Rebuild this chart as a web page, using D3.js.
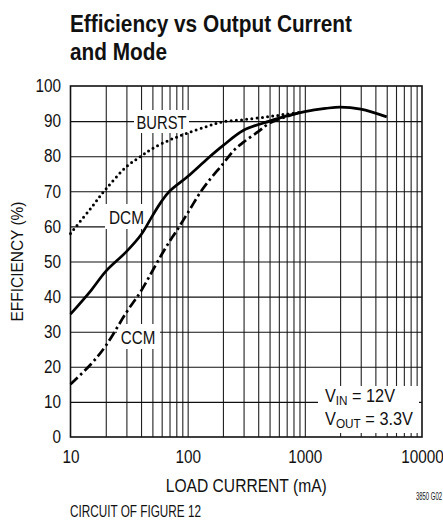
<!DOCTYPE html>
<html>
<head>
<meta charset="utf-8">
<script src="https://cdn.jsdelivr.net/npm/d3@7"></script>
<style>
  body { margin: 0; background: #fff; }
  svg text { font-family: "Liberation Sans", Arial, sans-serif; fill: #111; }
</style>
</head>
<body>
<svg id="chart" width="443" height="520"></svg>
<script>
// tick labels
var xTicks = [10, 100, 1000, 10000];
var yTicks = [0, 10, 20, 30, 40, 50, 60, 70, 80, 90, 100];

// BURST (dotted)
var burstI = [10, 15, 20, 30, 40, 50, 70, 100, 150, 200, 300, 500, 700, 900];
var burstE = [58, 65.3, 70.6, 77, 80, 82.2, 84.6, 86.6, 88.6, 89.8, 90.4, 91.3, 92, 92.5];

// DCM (solid)
var dcmI = [10, 15, 20, 30, 40, 50, 60, 70, 100, 150, 200, 300, 500, 700, 1000, 1500, 2000, 3000, 5000];
var dcmE = [35, 41.8, 47.2, 52.8, 57.6, 63, 67.2, 70, 74.2, 79.5, 83, 87.4, 90, 91.5, 92.7, 93.6, 94, 93.4, 91.2];

// CCM (dash-dot)
var ccmI = [10, 15, 20, 30, 40, 50, 60, 70, 80, 100, 130, 150, 200, 250, 300, 400, 500, 700, 900];
var ccmE = [15, 20.8, 26, 35.5, 41.6, 47.3, 52, 55.7, 58.6, 63.8, 70, 72.8, 77.8, 81.8, 84, 87, 89.4, 91.3, 92.4];

var svg = d3.select("#chart");
var mLeft = 70.5, mRight = 422, mTop = 86, mBottom = 437;

var x = d3.scaleLog().domain([10, 10000]).range([mLeft, mRight]);
var y = d3.scaleLinear().domain([0, 100]).range([mBottom, mTop]);

// squeeze text horizontally to mimic the condensed face
function squeeze(sel, w) {
    sel.each(function(){
        var len = this.getComputedTextLength();
        var target = typeof w === "number" ? w : len * 0.85;
        d3.select(this).attr("textLength", target).attr("lengthAdjust", "spacingAndGlyphs");
    });
}

// title
svg.append("text")
    .attr("x", 70).attr("y", 32)
    .style("font-size", "23px").style("font-weight", "bold")
    .text("Efficiency vs Output Current")
    .call(squeeze, 282);
svg.append("text")
    .attr("x", 70).attr("y", 60)
    .style("font-size", "23px").style("font-weight", "bold")
    .text("and Mode")
    .call(squeeze, 97);

// grid
var minor = [];
[10, 100, 1000].forEach(function(d){
    for (var k = 2; k <= 9; k++) minor.push(d * k);
});
minor = minor.concat([100, 1000]);

svg.append("g")
    .attr("class", "grid-x")
    .attr("transform", "translate(0," + mBottom + ")")
    .call(d3.axisBottom(x).tickValues(minor).tickSize(-(mBottom - mTop)).tickFormat(""))
    .call(function(g){
        g.select(".domain").remove();
        g.selectAll("line").attr("stroke", "#222").attr("stroke-width", 1.1);
    });

svg.append("g")
    .attr("class", "grid-y")
    .attr("transform", "translate(" + mLeft + ",0)")
    .call(d3.axisLeft(y).tickValues(yTicks.slice(1, -1)).tickSize(-(mRight - mLeft)).tickFormat(""))
    .call(function(g){
        g.select(".domain").remove();
        g.selectAll("line").attr("stroke", "#111").attr("stroke-width", 1.1);
    });

// white boxes behind curve labels
var boxes = [
    [134, 110, 55, 23],
    [105, 204, 42, 25],
    [117, 324, 43, 25],
    [318, 386, 101, 47]
];
svg.selectAll("rect.bg")
    .data(boxes)
    .enter()
    .append("rect")
    .attr("class", "bg")
    .attr("x", function(d){ return d[0]; })
    .attr("y", function(d){ return d[1]; })
    .attr("width", function(d){ return d[2]; })
    .attr("height", function(d){ return d[3]; })
    .attr("fill", "#fff");

// frame
svg.append("rect")
    .attr("x", mLeft).attr("y", mTop)
    .attr("width", mRight - mLeft).attr("height", mBottom - mTop)
    .attr("fill", "none").attr("stroke", "#111").attr("stroke-width", 1.6);

// axes labels
svg.append("g")
    .attr("transform", "translate(" + mLeft + ",0)")
    .call(d3.axisLeft(y).tickValues(yTicks).tickSize(0).tickPadding(9.5))
    .call(function(g){
        g.select(".domain").remove();
        g.selectAll("text").style("font-size", "18px").attr("fill", "#111")
            .style("font-family", "'Liberation Sans', Arial, sans-serif")
            .call(squeeze);
    });

svg.append("g")
    .attr("transform", "translate(0," + mBottom + ")")
    .call(d3.axisBottom(x).tickValues(xTicks).tickSize(0).tickPadding(13.7).tickFormat(d3.format("d")))
    .call(function(g){
        g.select(".domain").remove();
        g.selectAll("text").style("font-size", "18px").attr("fill", "#111")
            .style("font-family", "'Liberation Sans', Arial, sans-serif")
            .call(squeeze);
    });

svg.append("text")
    .attr("transform", "translate(23," + ((mTop + mBottom) / 2) + ") rotate(-90)")
    .attr("text-anchor", "middle")
    .style("font-size", "16px")
    .text("EFFICIENCY (%)")
    .call(squeeze, 120);

svg.append("text")
    .attr("x", (mLeft + mRight) / 2).attr("y", 491.5)
    .attr("text-anchor", "middle")
    .style("font-size", "17.5px")
    .text("LOAD CURRENT (mA)")
    .call(squeeze, 161);

svg.append("text")
    .attr("x", 70).attr("y", 517)
    .style("font-size", "17px")
    .text("CIRCUIT OF FIGURE 12")
    .call(squeeze, 131);

svg.append("text")
    .attr("x", 442).attr("y", 500)
    .attr("text-anchor", "end")
    .style("font-size", "10px")
    .text("3850 G02")
    .call(squeeze, 26);

// curves
var line = d3.line()
    .x(function(d){ return x(d[0]); })
    .y(function(d){ return y(d[1]); })
    .curve(d3.curveCatmullRom.alpha(0.5));

function pairs(a, b) { return a.map(function(v, i){ return [v, b[i]]; }); }

svg.append("path")
    .datum(pairs(burstI, burstE))
    .attr("d", line)
    .attr("fill", "none").attr("stroke", "#000")
    .attr("stroke-width", 3)
    .attr("stroke-linecap", "round")
    .attr("stroke-dasharray", "0,5.2");

svg.append("path")
    .datum(pairs(ccmI, ccmE))
    .attr("d", line)
    .attr("fill", "none").attr("stroke", "#000")
    .attr("stroke-width", 2.7)
    .attr("stroke-dasharray", "10,3.5,2.5,3.5");

svg.append("path")
    .datum(pairs(dcmI, dcmE))
    .attr("d", line)
    .attr("fill", "none").attr("stroke", "#000")
    .attr("stroke-width", 2.7);

// curve labels
var labels = [["BURST", 161.5, 128.5, 50], ["DCM", 126.5, 223.5, 35], ["CCM", 138, 343.5, 34.5]];
svg.selectAll("text.lab")
    .data(labels)
    .enter()
    .append("text")
    .attr("class", "lab")
    .attr("x", function(d){ return d[1]; })
    .attr("y", function(d){ return d[2]; })
    .attr("text-anchor", "middle")
    .style("font-size", "18px")
    .text(function(d){ return d[0]; })
    .each(function(d){ d3.select(this).call(squeeze, d[3]); });

// conditions
var t1 = svg.append("text").attr("x", 325).attr("y", 402).style("font-size", "18px");
t1.append("tspan").text("V");
t1.append("tspan").attr("dy", 3).style("font-size", "13px").text("IN");
t1.append("tspan").attr("dy", -3).text(" = 12V");
t1.call(squeeze, 70);

var t2 = svg.append("text").attr("x", 325).attr("y", 425).style("font-size", "18px");
t2.append("tspan").text("V");
t2.append("tspan").attr("dy", 3).style("font-size", "13px").text("OUT");
t2.append("tspan").attr("dy", -3).text(" = 3.3V");
t2.call(squeeze, 88);
</script>
</body>
</html>
